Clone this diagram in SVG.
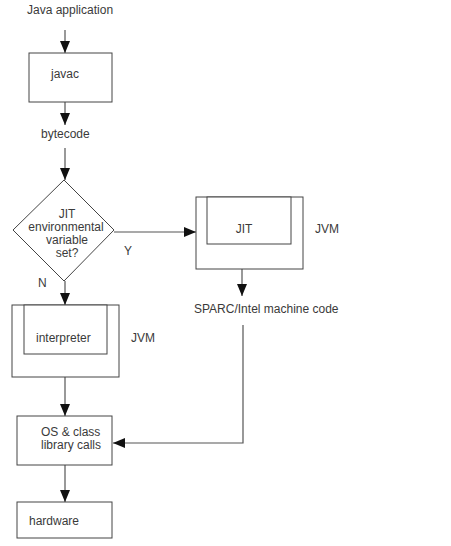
<svg xmlns="http://www.w3.org/2000/svg" width="451" height="546" viewBox="0 0 451 546">
<defs>
<marker id="ah" markerWidth="12" markerHeight="10" refX="12" refY="5" orient="auto" markerUnits="userSpaceOnUse">
<path d="M0,0 L12,5 L0,10 Z" fill="#111"/>
</marker>
<style>
text{font-family:"Liberation Sans",Arial,sans-serif;font-size:12px;fill:#3a3a3a}
.b{fill:#fff;stroke:#444;stroke-width:1}
.c{fill:none;stroke:#555;stroke-width:1.2;marker-end:url(#ah)}
</style>
</defs>
<rect width="451" height="546" fill="#fff"/>
<g id="connectors">
<line class="c" x1="65" y1="30" x2="65" y2="53"/>
<line class="c" x1="65" y1="102" x2="65" y2="125"/>
<line class="c" x1="65" y1="148" x2="65" y2="180"/>
<line class="c" x1="114" y1="232" x2="196" y2="232"/>
<line class="c" x1="65" y1="281" x2="65" y2="305"/>
<line class="c" x1="242" y1="269" x2="242" y2="296"/>
<polyline class="c" points="243,325 243,443 113,443"/>
<line class="c" x1="65" y1="377" x2="65" y2="416"/>
<line class="c" x1="65" y1="465" x2="65" y2="502"/>
</g>
<g id="java-app"><text x="27" y="14">Java application</text></g>
<g id="javac"><rect class="b" x="29" y="53" width="83" height="49"/><text x="51" y="78">javac</text></g>
<g id="bytecode"><text x="41" y="138">bytecode</text></g>
<g id="decision">
<polygon class="b" points="64,180 114,230 64,281 13,230"/>
<text x="67" y="218" text-anchor="middle">JIT</text>
<text x="66" y="231" text-anchor="middle">environmental</text>
<text x="67" y="244" text-anchor="middle">variable</text>
<text x="67" y="257" text-anchor="middle">set?</text>
<text x="124" y="255">Y</text>
<text x="38" y="287">N</text>
</g>
<g id="jit-jvm">
<rect class="b" x="196" y="197" width="107" height="72"/>
<rect class="b" x="207" y="197" width="84" height="47"/>
<text x="244" y="233" text-anchor="middle">JIT</text>
<text x="315" y="233">JVM</text>
</g>
<g id="machine-code"><text x="194" y="313">SPARC/Intel machine code</text></g>
<g id="interp-jvm">
<rect class="b" x="12" y="305" width="107" height="72"/>
<rect class="b" x="24" y="305" width="83" height="49"/>
<text x="36" y="342">interpreter</text>
<text x="131" y="342">JVM</text>
</g>
<g id="os">
<rect class="b" x="17" y="416" width="95" height="49"/>
<text x="41" y="436">OS &amp; class</text>
<text x="41" y="449">library calls</text>
</g>
<g id="hardware">
<rect class="b" x="17" y="502" width="95" height="36"/>
<text x="29" y="525">hardware</text>
</g>
</svg>
